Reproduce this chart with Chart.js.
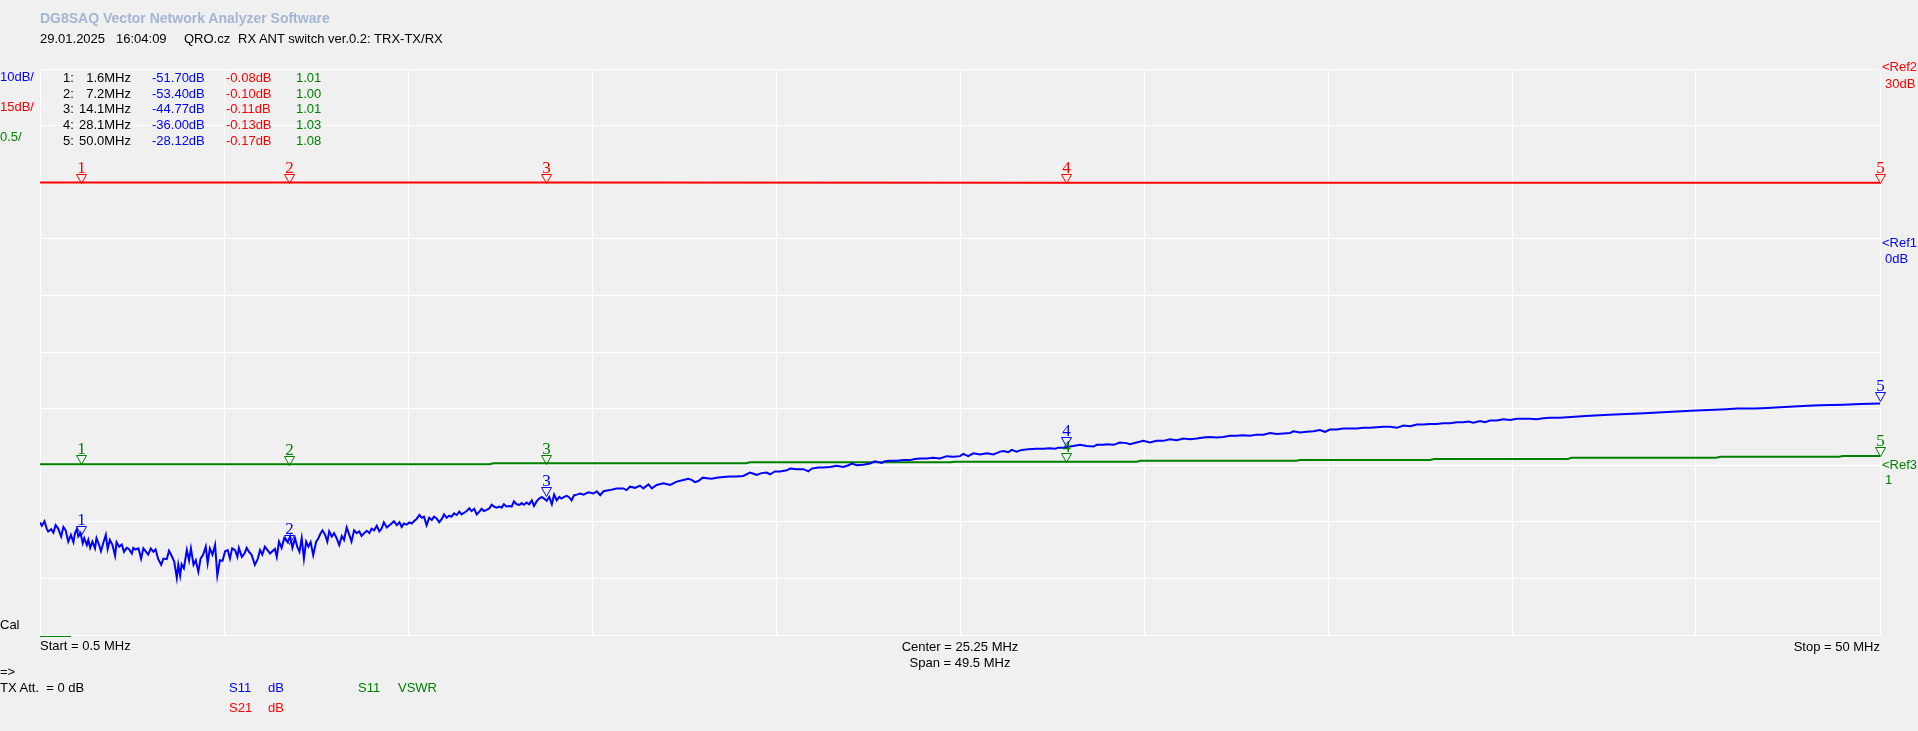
<!DOCTYPE html>
<html>
<head>
<meta charset="utf-8">
<title>DG8SAQ VNA - RX ANT switch</title>
<script src="https://cdn.jsdelivr.net/npm/chart.js@4.4.1/dist/chart.umd.min.js"></script>
<style>
  html, body { margin: 0; padding: 0; background: #f0f0f0; }
  #wrap { position: relative; width: 1918px; height: 731px; overflow: hidden;
          font: 13px "Liberation Sans", Arial, sans-serif; color: #000; }
  #wrap canvas { position: absolute; left: 0; top: 0; }
  .t { position: absolute; white-space: pre; line-height: 16px; }
  .blue { color: #0000ff; } .red { color: #ff0000; } .green { color: #008000; }
  #title { font-weight: bold; font-size: 14px; color: #a4b6d4; }
  #calbar { position: absolute; left: 40px; top: 636px; width: 31px; height: 1px; background: #008000; }
</style>
</head>
<body>
<div id="wrap">
  <canvas id="vna" width="1918" height="731"></canvas>
  <div id="calbar"></div>
</div>
<script>
// sweep
const fStart = 0.5, fStop = 50;
const xGrid = [0.5, 5.45, 10.4, 15.35, 20.3, 25.25, 30.2, 35.15, 40.1, 45.05, 50];
const s21Grid = [30, 15, 0, -15, -30, -45, -60, -75, -90, -105, -120];

// markers (MHz) and readouts
const markerFreq = [1.6, 7.2, 14.1, 28.1, 50.0];
const markerS11 = [-51.70, -53.40, -44.77, -36.00, -28.12];
const markerS21 = [-0.08, -0.10, -0.11, -0.13, -0.17];
const markerVswr = [1.01, 1.00, 1.01, 1.03, 1.08];

// S11 dB trace
const s11Freq = [
  0.5,0.55,0.62,0.68,0.72,0.80,0.86,0.92,0.99,1.07,
  1.13,1.19,1.26,1.33,1.40,1.44,1.49,1.53,1.59,1.65,
  1.69,1.76,1.80,1.85,1.91,1.98,2.02,2.09,2.14,2.20,
  2.27,2.32,2.38,2.45,2.52,2.56,2.63,2.70,2.76,2.83,
  2.89,2.97,3.01,3.07,3.15,3.22,3.28,3.34,3.41,3.48,
  3.55,3.61,3.68,3.76,3.82,3.91,3.97,4.04,4.11,4.18,
  4.22,4.27,4.31,4.37,4.45,4.51,4.56,4.63,4.69,4.76,
  4.82,4.89,4.96,5.01,5.07,5.14,5.21,5.27,5.34,5.41,
  5.48,5.55,5.61,5.67,5.75,5.81,5.85,5.93,6.00,6.06,
  6.12,6.19,6.28,6.36,6.42,6.48,6.55,6.62,6.69,6.75,
  6.82,6.87,6.93,7.00,7.07,7.16,7.23,7.29,7.36,7.42,
  7.48,7.54,7.60,7.66,7.72,7.78,7.85,7.93,7.99,8.05,
  8.10,8.17,8.23,8.28,8.35,8.41,8.48,8.55,8.62,8.68,
  8.75,8.82,8.88,8.95,9.02,9.09,9.15,9.22,9.29,9.36,
  9.42,9.49,9.56,9.63,9.69,9.75,9.83,9.90,9.96,10.02,
  10.10,10.17,10.23,10.29,10.36,10.44,10.50,10.56,10.63,10.71,
  10.77,10.83,10.90,10.97,11.04,11.10,11.17,11.24,11.31,11.37,
  11.44,11.51,11.57,11.64,11.71,11.78,11.84,11.91,11.98,12.05,
  12.11,12.18,12.25,12.32,12.38,12.44,12.52,12.59,12.65,12.71,
  12.79,12.86,12.92,12.98,13.05,13.13,13.19,13.25,13.32,13.40,
  13.46,13.52,13.59,13.66,13.73,13.79,13.86,13.93,14.00,14.06,
  14.13,14.20,14.27,14.33,14.40,14.47,14.53,14.60,14.67,14.74,
  14.80,14.87,14.94,15.03,15.12,15.25,15.39,15.48,15.57,15.66,
  15.83,16.01,16.19,16.28,16.37,16.51,16.64,16.73,16.87,16.96,
  17.09,17.27,17.45,17.63,17.81,17.94,18.03,18.12,18.21,18.33,
  18.44,18.57,18.70,18.88,19.06,19.24,19.42,19.60,19.78,19.91,
  20.05,20.14,20.27,20.41,20.59,20.68,20.86,21.04,21.17,21.26,
  21.44,21.57,21.75,21.93,22.11,22.25,22.34,22.47,22.65,22.83,
  22.96,23.14,23.23,23.37,23.55,23.73,23.90,24.04,24.17,24.35,
  24.53,24.71,24.89,25.07,25.25,25.34,25.47,25.61,25.79,25.97,
  26.15,26.33,26.42,26.55,26.64,26.77,26.91,27.09,27.31,27.49,
  27.67,27.81,27.90,28.03,28.21,28.30,28.48,28.66,28.84,28.93,
  29.11,29.20,29.38,29.55,29.73,29.82,30.00,30.18,30.36,30.54,
  30.72,30.90,31.08,31.26,31.44,31.62,31.80,31.98,32.15,32.33,
  32.51,32.69,32.87,33.05,33.23,33.41,33.59,33.77,33.95,34.13,
  34.22,34.40,34.58,34.76,34.93,35.07,35.20,35.38,35.56,35.74,
  35.92,36.10,36.28,36.46,36.64,36.82,37.00,37.18,37.36,37.54,
  37.71,37.89,38.07,38.25,38.43,38.61,38.79,38.93,39.06,39.24,
  39.37,39.51,39.69,39.87,40.05,40.23,40.40,40.58,40.76,40.94,
  41.12,41.39,42.08,42.71,43.02,43.65,44.28,44.91,45.23,45.86,
  46.17,46.65,46.96,47.43,48.06,48.38,49.01,49.48,50.0
];
const s11Db = [
  -49.5,-50.1,-49.3,-50.6,-51.1,-50.7,-51.3,-50.0,-50.6,-52.0,
  -50.3,-50.9,-52.9,-51.7,-53.0,-51.4,-50.7,-52.0,-51.4,-53.2,
  -52.3,-53.5,-52.6,-54.0,-52.9,-54.1,-52.3,-53.5,-54.6,-53.2,
  -51.7,-54.2,-52.6,-53.5,-55.4,-53.0,-53.8,-53.4,-54.7,-54.0,
  -54.2,-55.0,-54.0,-54.3,-54.1,-55.9,-54.1,-54.6,-55.2,-54.1,
  -54.7,-54.3,-56.0,-57.0,-55.9,-56.0,-54.5,-55.4,-56.4,-59.3,
  -57.0,-58.9,-56.9,-57.6,-54.4,-56.2,-54.1,-57.0,-56.2,-58.2,
  -55.9,-55.2,-53.8,-56.7,-54.1,-55.2,-53.5,-58.9,-56.2,-56.3,
  -54.6,-54.4,-55.9,-54.1,-54.4,-55.6,-54.0,-55.6,-55.0,-54.0,
  -54.7,-55.2,-57.0,-55.9,-54.4,-55.2,-53.8,-54.4,-55.0,-54.6,
  -54.2,-55.6,-52.9,-54.0,-52.3,-53.0,-52.0,-54.0,-52.3,-53.8,
  -54.7,-52.3,-55.9,-52.9,-53.8,-53.0,-55.3,-52.9,-52.3,-51.4,
  -50.9,-51.7,-52.9,-51.1,-52.0,-51.4,-52.3,-53.5,-51.9,-52.6,
  -50.4,-51.7,-52.9,-50.9,-51.4,-51.1,-51.9,-51.4,-51.0,-51.4,
  -50.6,-50.9,-50.1,-51.1,-50.6,-49.5,-50.4,-50.0,-49.7,-49.3,
  -50.0,-49.5,-50.3,-49.7,-49.9,-49.5,-49.7,-49.3,-48.9,-48.2,
  -48.7,-48.5,-50.0,-48.7,-49.1,-48.5,-48.8,-49.5,-48.9,-48.1,
  -48.7,-48.3,-48.5,-47.9,-48.2,-47.6,-48.1,-47.8,-47.5,-47.0,
  -47.5,-47.1,-48.1,-47.6,-47.1,-47.5,-47.3,-47.0,-46.4,-46.7,
  -46.9,-46.7,-46.9,-46.3,-46.7,-46.6,-46.7,-45.8,-46.3,-46.4,
  -46.1,-46.4,-46.0,-46.3,-45.6,-46.6,-45.8,-45.3,-45.0,-45.3,
  -45.7,-45.0,-46.3,-44.6,-45.6,-45.0,-45.3,-45.0,-44.8,-45.1,
  -45.6,-44.7,-44.6,-44.4,-44.6,-44.2,-44.4,-44.0,-44.7,-44.0,
  -43.8,-43.5,-43.5,-43.8,-43.2,-43.4,-43.0,-43.5,-42.8,-43.5,
  -42.9,-42.6,-42.9,-42.3,-42.0,-41.8,-42.0,-42.4,-42.2,-41.6,
  -41.7,-41.8,-41.6,-41.5,-41.4,-41.4,-41.3,-40.7,-41.1,-40.8,
  -40.7,-41.0,-40.5,-40.5,-40.3,-40.0,-40.1,-40.1,-40.5,-40.0,
  -39.8,-39.8,-39.7,-39.5,-39.7,-39.4,-39.1,-39.4,-39.3,-39.1,
  -38.7,-39.0,-38.7,-38.6,-38.6,-38.5,-38.5,-38.3,-38.2,-38.2,
  -38.1,-38.2,-37.8,-37.9,-37.8,-37.4,-37.8,-37.3,-37.5,-37.3,
  -37.5,-37.0,-36.9,-37.1,-36.7,-37.0,-36.7,-36.6,-36.5,-36.5,
  -36.4,-36.5,-36.3,-36.3,-36.1,-36.0,-35.8,-36.0,-36.1,-35.8,
  -35.8,-35.7,-35.8,-35.4,-35.5,-35.7,-35.4,-35.1,-35.4,-35.1,
  -35.1,-34.8,-35.0,-34.7,-34.8,-34.7,-34.5,-34.4,-34.5,-34.4,
  -34.2,-34.2,-34.1,-34.2,-34.0,-34.0,-33.7,-33.9,-33.8,-33.7,
  -33.4,-33.6,-33.5,-33.4,-33.2,-33.5,-33.1,-33.1,-32.9,-32.9,
  -32.9,-32.8,-32.8,-32.7,-32.6,-32.6,-32.8,-32.4,-32.5,-32.2,
  -32.2,-32.1,-32.1,-32.0,-32.0,-31.8,-31.8,-31.7,-31.9,-31.6,
  -31.8,-31.5,-31.5,-31.3,-31.4,-31.2,-31.2,-31.2,-31.3,-31.1,
  -31.0,-31.0,-30.7,-30.5,-30.4,-30.2,-30.0,-29.8,-29.7,-29.5,
  -29.4,-29.4,-29.3,-29.1,-28.9,-28.8,-28.7,-28.6,-28.5
];

// S21 dB trace
const s21Freq = [0.5, 1.6, 7.2, 14.1, 28.1, 50.0];
const s21Db = [-0.07, -0.08, -0.10, -0.11, -0.13, -0.17];

// S11 VSWR trace
const vswrFreq = [0.5, 12.6, 12.7, 19.5, 19.6, 25.0, 25.1, 30.0, 30.1, 34.3,
                  34.4, 37.9, 38.0, 41.6, 41.7, 45.6, 45.7, 48.9, 49.0, 50.0];
const vswrVal = [1.008, 1.008, 1.017, 1.017, 1.026, 1.026, 1.031, 1.031, 1.040, 1.040,
                 1.046, 1.046, 1.055, 1.055, 1.066, 1.066, 1.075, 1.075, 1.081, 1.081];

const pairs = (xs, ys) => xs.map((x, i) => ({ x: x, y: ys[i] }));

// --- text around the plot ---
const wrap = document.getElementById("wrap");
function label(text, x, top, cls, align) {
    const d = document.createElement("div");
    d.className = "t" + (cls ? " " + cls : "");
    d.textContent = text;
    d.style.top = top + "px";
    if (align === "right") d.style.right = (1918 - x) + "px";
    else if (align === "center") { d.style.left = x + "px"; d.style.transform = "translateX(-50%)"; }
    else d.style.left = x + "px";
    wrap.appendChild(d);
    return d;
}

label("DG8SAQ Vector Network Analyzer Software", 40, 10).id = "title";
label("29.01.2025", 40, 31);
label("16:04:09", 116, 31);
label("QRO.cz", 184, 31);
label("RX ANT switch ver.0.2: TRX-TX/RX", 238, 31);

label("10dB/", 0, 69, "blue");
label("15dB/", 0, 99, "red");
label("0.5/", 0, 129, "green");

markerFreq.forEach((f, i) => {
    const top = 69.7 + i * 15.8;
    label((i + 1) + ":", 63, top);
    label(f.toFixed(1) + "MHz", 131, top, "", "right");
    label(markerS11[i].toFixed(2) + "dB", 152, top, "blue");
    label(markerS21[i].toFixed(2) + "dB", 226, top, "red");
    label(markerVswr[i].toFixed(2), 296, top, "green");
});

label("<Ref2", 1882, 59, "red");
label("30dB", 1885, 76, "red");
label("<Ref1", 1882, 235, "blue");
label("0dB", 1885, 251, "blue");
label("<Ref3", 1882, 457, "green");
label("1", 1885, 472, "green");

label("Cal", 0, 617);
label("Start = " + fStart + " MHz", 40, 638);
label("Center = " + ((fStart + fStop) / 2) + " MHz", 960, 639, "", "center");
label("Span = " + (fStop - fStart) + " MHz", 960, 655, "", "center");
label("Stop = " + fStop + " MHz", 1880, 639, "", "right");
label("=>", 0, 664);
label("TX Att.  = 0 dB", 0, 680);
label("S11", 229, 680, "blue");
label("dB", 268, 680, "blue");
label("S21", 229, 700, "red");
label("dB", 268, 700, "red");
label("S11", 358, 680, "green");
label("VSWR", 398, 680, "green");

// --- marker triangles + numbers, placed through the scales ---
const markerPlugin = {
    id: "markers",
    afterDatasetsDraw(chart) {
        const ctx = chart.ctx, xs = chart.scales.x;
        const sets = [
            { axis: "yS21", vals: markerS21, color: "#ff0000" },
            { axis: "yVswr", vals: markerVswr, color: "#008000" },
            { axis: "yS11", vals: markerS11, color: "#0000ff" }
        ];
        ctx.save();
        ctx.lineWidth = 1;
        ctx.font = '17px "Liberation Serif", serif';
        ctx.textAlign = "center";
        sets.forEach(s => {
            const ys = chart.scales[s.axis];
            markerFreq.forEach((f, i) => {
                const x = Math.round(xs.getPixelForValue(f)) + 0.5;
                const y = Math.round(ys.getPixelForValue(s.vals[i])) + 0.5;
                ctx.strokeStyle = s.color;
                ctx.fillStyle = s.color;
                ctx.beginPath();
                ctx.moveTo(x - 5, y - 9);
                ctx.lineTo(x + 5, y - 9);
                ctx.lineTo(x, y);
                ctx.closePath();
                ctx.stroke();
                ctx.fillText(String(i + 1), x, y - 11);
            });
        });
        ctx.restore();
    }
};

const gridStyle = { color: "#ffffff", lineWidth: 1, drawTicks: false };

new Chart(document.getElementById("vna"), {
    type: "scatter",
    data: {
        datasets: [
            { label: "S11 dB", data: pairs(s11Freq, s11Db), yAxisID: "yS11", borderColor: "#0000ff" },
            { label: "S11 VSWR", data: pairs(vswrFreq, vswrVal), yAxisID: "yVswr", borderColor: "#008000" },
            { label: "S21 dB", data: pairs(s21Freq, s21Db), yAxisID: "yS21", borderColor: "#ff0000" }
        ]
    },
    options: {
        responsive: false,
        animation: false,
        devicePixelRatio: 1,
        showLine: true,
        layout: { padding: { left: 40, top: 69, right: 38, bottom: 96 } },
        plugins: { legend: { display: false }, tooltip: { enabled: false } },
        elements: { point: { radius: 0 }, line: { borderWidth: 2, tension: 0, fill: false } },
        scales: {
            x: {
                type: "linear", min: fStart, max: fStop,
                afterBuildTicks: s => { s.ticks = xGrid.map(v => ({ value: v })); },
                afterFit: s => { s.height = 0; },
                ticks: { display: false }, border: { display: false }, grid: gridStyle
            },
            yS21: {
                position: "left", min: -120, max: 30,
                afterBuildTicks: s => { s.ticks = s21Grid.map(v => ({ value: v })); },
                afterFit: s => { s.width = 0; },
                ticks: { display: false }, border: { display: false }, grid: gridStyle
            },
            yS11: { display: false, min: -69.4, max: 30.6 },
            yVswr: { display: false, min: -0.5, max: 4.5 }
        }
    },
    plugins: [markerPlugin]
});
</script>
</body>
</html>
